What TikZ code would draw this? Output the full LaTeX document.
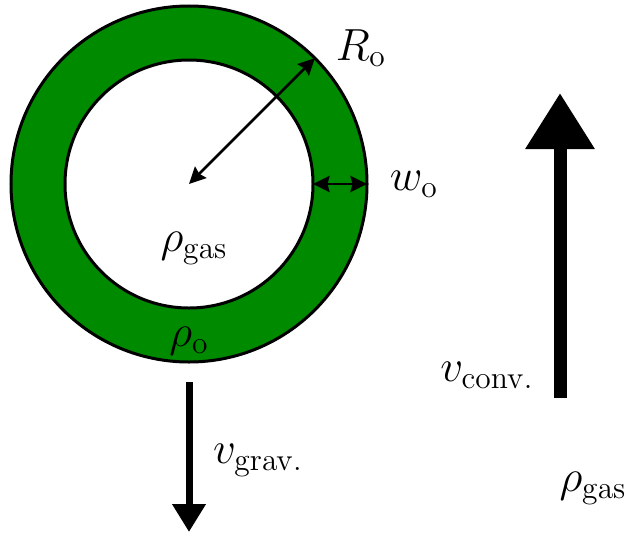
\RequirePackage{fix-cm}
\documentclass[tikz,border=0pt]{standalone}
\usepackage{amsmath,amssymb}
\usepackage{tikz}
\usetikzlibrary{arrows.meta,positioning,calc}
\definecolor{Shell}{HTML}{008A00}
\tikzset{
  rim/.style={draw=black,line width=1.2pt},
  lbl/.style={inner sep=0pt,font=\fontsize{18}{22}\selectfont},
  dim/.style={{Stealth[length=6.6pt,width=6.4pt,inset=0.8pt]}-{Stealth[length=6.6pt,width=6.4pt,inset=0.8pt]},line width=1.1pt},
  fall/.style={-{Triangle[length=11.2pt,width=12.8pt]},line width=2.8pt},
  rise/.style={-{Triangle[length=22.4pt,width=26.4pt]},line width=5.2pt}
}
\begin{document}
\begin{tikzpicture}[x=0.4pt,y=-0.4pt]
  \useasboundingbox (0,0) rectangle (627,534);
  % bubble with shell
  \coordinate (c) at (189,184);
  \filldraw[fill=Shell,rim] (c) circle[radius=71.2pt];
  \filldraw[fill=white,rim] (c) circle[radius=49.6pt];
  \coordinate (rtip) at ($(c)+(45:71.2pt)$);
  \coordinate (win) at ($(c)+(49.6pt,0)$);
  \coordinate (wout) at ($(c)+(71.2pt,0)$);
  \draw[dim] (c) -- (rtip);
  \draw[dim] (win) -- (wout);
  \node[lbl] (Rlab) at (361,48) {$R_{\mathrm{o}}$};
  \node[lbl] (wlab) at (414,184) {$w_{\mathrm{o}}$};
  \node[lbl] (gasin) at (194,248) {$\rho_{\mathrm{gas}}$};
  \node[lbl] (rholab) at (189,341) {$\rho_{\mathrm{o}}$};
  % velocities
  \coordinate (gtop) at (189,382);
  \coordinate (gbot) at (189,532);
  \draw[fall] (gtop) -- (gbot);
  \node[lbl] (vgrav) at (258,460) {$v_{\mathrm{grav.}}$};
  \coordinate (cbot) at (560,398);
  \coordinate (ctop) at (560,93);
  \draw[rise] (cbot) -- (ctop);
  \node[lbl] (vconv) at (487,375) {$v_{\mathrm{conv.}}$};
  \node[lbl] (gasout) at (593,488) {$\rho_{\mathrm{gas}}$};
\end{tikzpicture}
\end{document}
